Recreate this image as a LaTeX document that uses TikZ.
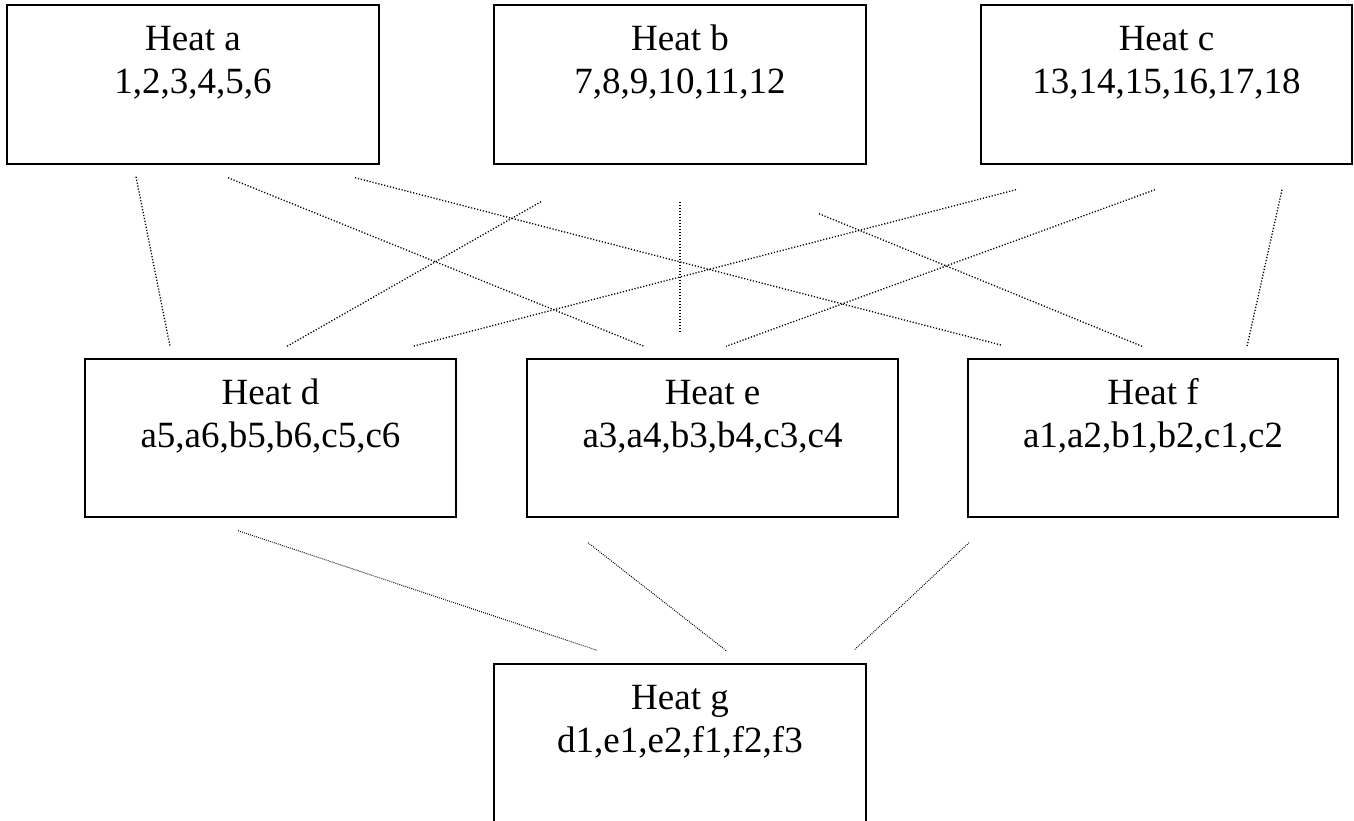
\documentclass[tikz,border=0pt]{standalone}
\usepackage{fontspec}
\setmainfont{Liberation Serif}
\begin{document}
\begin{tikzpicture}[x=1pt,y=1pt,
  heatbox/.style={draw,line width=1.4pt,inner sep=0pt,minimum height=159pt},
  txt/.style={anchor=base,inner sep=0pt,font=\fontsize{37}{44}\selectfont},
  conn/.style={line width=1.3pt,dash pattern=on 1.2pt off 1.8pt},
  connlow/.style={line width=1pt,dash pattern=on 0.9pt off 1.2pt}]
\useasboundingbox (0,0) rectangle (1354,-821);
% boxes
\node[heatbox,minimum width=372pt] (a) at (193,-84.5) {};
\node[heatbox,minimum width=372pt] (b) at (680,-84.5) {};
\node[heatbox,minimum width=371pt] (c) at (1166.5,-84.5) {};
\node[heatbox,minimum width=371pt,minimum height=158pt] (d) at (270.5,-438) {};
\node[heatbox,minimum width=371pt,minimum height=158pt] (e) at (712.5,-438) {};
\node[heatbox,minimum width=370pt,minimum height=158pt] (f) at (1153,-438) {};
\node[heatbox,minimum width=372pt,minimum height=170pt] (g) at (680,-749) {};
% texts
\foreach \n/\t/\u in {a/Heat a/{1,2,3,4,5,6},b/Heat b/{7,8,9,10,11,12},c/Heat c/{13,14,15,16,17,18},d/Heat d/{a5,a6,b5,b6,c5,c6},e/Heat e/{a3,a4,b3,b4,c3,c4},f/Heat f/{a1,a2,b1,b2,c1,c2},g/Heat g/{d1,e1,e2,f1,f2,f3}}{
  \node[txt] (\n1) at ([yshift=-46pt]\n.north) {\t};
  \node[txt] (\n2) at ([yshift=-89pt]\n.north) {\u};
}
% connectors top row -> middle row
\draw[conn] ([shift={(-57,-12)}]a.south) -- ([shift={(-100.5,12)}]d.north);
\draw[conn] ([shift={(35,-13)}]a.south) -- ([shift={(-68.5,12)}]e.north);
\draw[conn] ([shift={(162,-13)}]a.south) -- ([shift={(-151,13)}]f.north);
\draw[conn] ([shift={(-139,-37)}]b.south) -- ([shift={(16.5,12)}]d.north);
\draw[conn] ([shift={(0,-37)}]b.south) -- ([shift={(-32.5,27)}]e.north);
\draw[conn] ([shift={(139,-49)}]b.south) -- ([shift={(-11,12)}]f.north);
\draw[conn] ([shift={(-150.5,-25)}]c.south) -- ([shift={(142.5,12)}]d.north);
\draw[conn] ([shift={(-11.5,-25)}]c.south) -- ([shift={(13.5,12)}]e.north);
\draw[conn] ([shift={(115.5,-25)}]c.south) -- ([shift={(94,12)}]f.north);
% connectors middle row -> bottom
\draw[connlow] ([shift={(-32.5,-13)}]d.south) -- ([shift={(-83,13)}]g.north);
\draw[connlow] ([shift={(-124.5,-25)}]e.south) -- ([shift={(47,12)}]g.north);
\draw[connlow] ([shift={(-184,-25)}]f.south) -- ([shift={(175,14)}]g.north);
\end{tikzpicture}
\end{document}
